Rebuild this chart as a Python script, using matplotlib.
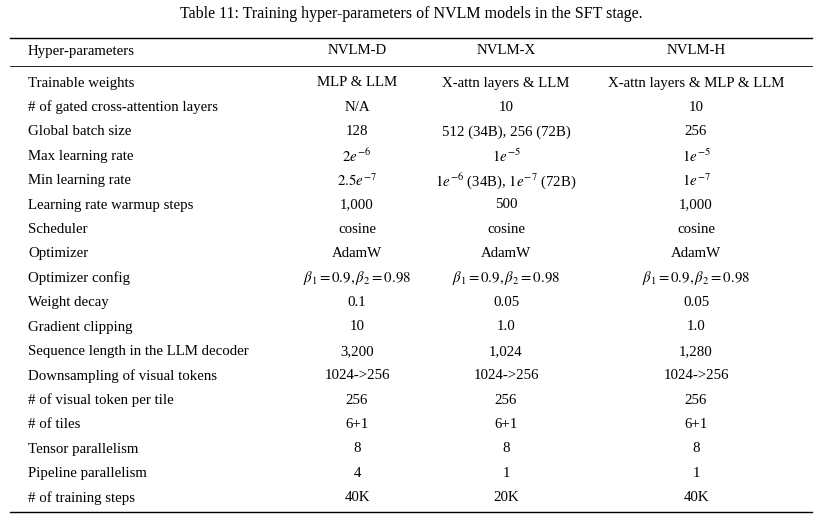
import matplotlib.pyplot as plt

plt.rcParams['font.family'] = ['Liberation Serif', 'DejaVu Serif']
plt.rcParams['mathtext.fontset'] = 'stix'

title = "Table 11: Training hyper-parameters of NVLM models in the SFT stage."
header = ["Hyper-parameters", "NVLM-D", "NVLM-X", "NVLM-H"]
row_names = ["Trainable weights", "# of gated cross-attention layers", "Global batch size",
             "Max learning rate", "Min learning rate", "Learning rate warmup steps",
             "Scheduler", "Optimizer", "Optimizer config", "Weight decay",
             "Gradient clipping", "Sequence length in the LLM decoder",
             "Downsampling of visual tokens", "# of visual token per tile", "# of tiles",
             "Tensor parallelism", "Pipeline parallelism", "# of training steps"]
beta = r"$\beta_1 = 0.9, \beta_2 = 0.98$"
nvlm_d = ["MLP & LLM", "N/A", "128", r"$2e^{-6}$", r"$2.5e^{-7}$", "1,000", "cosine", "AdamW",
          beta, "0.1", "10", "3,200", "1024->256", "256", "6+1", "8", "4", "40K"]
nvlm_x = ["X-attn layers & LLM", "10", "512 (34B), 256 (72B)", r"$1e^{-5}$",
          r"$1e^{-6}$ (34B), $1e^{-7}$ (72B)", "500", "cosine", "AdamW",
          beta, "0.05", "1.0", "1,024", "1024->256", "256", "6+1", "8", "1", "20K"]
nvlm_h = ["X-attn layers & MLP & LLM", "10", "256", r"$1e^{-5}$", r"$1e^{-7}$", "1,000", "cosine",
          "AdamW", beta, "0.05", "1.0", "1,280", "1024->256", "256", "6+1", "8", "1", "40K"]

W, H = 822, 518
fig = plt.figure(figsize=(W / 100, H / 100), dpi=100)

def fy(y):
    return 1 - y / H

def put(x, y, s, ha='center', size=10.7):
    fig.text(x / W, fy(y), s, ha=ha, va='center', fontsize=size)

put(411, 14, title, size=11.5)
for y, lw in [(38, 1.0), (66, 0.6), (512, 1.0)]:
    fig.add_artist(plt.Line2D([10 / W, 812 / W], [fy(y), fy(y)], color='black', lw=lw))

col_x = [357, 506, 696]
put(28, 51, header[0], ha='left')
for x, h in zip(col_x, header[1:]):
    put(x, 51, h)

for i, name in enumerate(row_names):
    y = 83 + i * 24.4
    put(28, y, name, ha='left')
    for x, col in zip(col_x, [nvlm_d, nvlm_x, nvlm_h]):
        put(x, y, col[i])

fig.savefig("out.png", dpi=100)
